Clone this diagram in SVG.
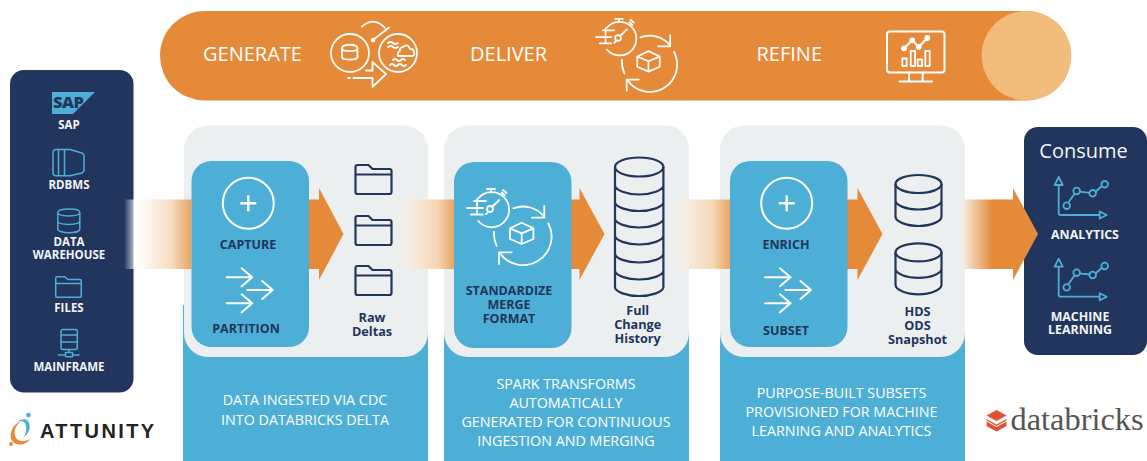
<svg xmlns="http://www.w3.org/2000/svg" width="1147" height="461" viewBox="0 0 1147 461">
<style>
text{font-family:"Open Sans","Noto Sans","Liberation Sans",sans-serif}
.n{fill:#22355d;font-weight:700;font-size:12.5px;text-anchor:middle}
.nb{fill:#22355d;font-weight:700;font-size:12.7px;text-anchor:middle}
.l{fill:#f2f4f7;font-weight:700;font-size:11.5px;text-anchor:middle}
.c{fill:#f2f4f7;font-weight:700;font-size:12.4px;text-anchor:middle}
.t{fill:#fff;font-size:20px;font-weight:400}
.b{fill:#fff;font-size:14.3px;text-anchor:middle}
.w{fill:none;stroke:#fff;stroke-width:2;stroke-linecap:round;stroke-linejoin:round}
.w2{fill:none;stroke:#fff;stroke-width:1.800;stroke-linecap:round;stroke-linejoin:round}
.nv{fill:none;stroke:#22355d;stroke-width:2.200;stroke-linejoin:round}
.bl{fill:none;stroke:#4eafd6;stroke-width:1.500;stroke-linejoin:round}
.bc{fill:none;stroke:#4eafd6;stroke-width:1.800;stroke-linejoin:round}
.g{fill:#ebeff0}
.p{fill:#4eafd6}
.o{fill:#e58a38}
</style>
<defs>
<linearGradient id="g1" gradientUnits="userSpaceOnUse" x1="124" x2="191" y1="0" y2="0"><stop offset="0" stop-color="#fff" stop-opacity="0"/><stop offset=".16" stop-color="#fff" stop-opacity=".7"/><stop offset=".3" stop-color="#fdf8f2"/><stop offset=".7" stop-color="#f6dcc2"/><stop offset="1" stop-color="#e9a561"/></linearGradient>
<linearGradient id="g2" gradientUnits="userSpaceOnUse" x1="397" x2="454" y1="0" y2="0"><stop offset="0" stop-color="#ebeff0"/><stop offset=".2" stop-color="#f6eee5"/><stop offset=".7" stop-color="#f5d8b8"/><stop offset="1" stop-color="#e9a561"/></linearGradient>
<linearGradient id="g3" gradientUnits="userSpaceOnUse" x1="673" x2="730" y1="0" y2="0"><stop offset="0" stop-color="#ebeff0"/><stop offset=".2" stop-color="#f6eee5"/><stop offset=".7" stop-color="#f5d8b8"/><stop offset="1" stop-color="#e9a561"/></linearGradient>
<linearGradient id="g4" gradientUnits="userSpaceOnUse" x1="963" x2="993" y1="0" y2="0"><stop offset="0" stop-color="#f7ecdf"/><stop offset="1" stop-color="#e58a38"/></linearGradient>
<symbol id="folder" overflow="visible" viewBox="0 0 38 31" width="38" height="31"><path d="M1 28V3q0-2 2-2h11l4 4h17q2 0 2 2v21q0 2-2 2H3q-2 0-2-2zM1 10.500H37" fill="none" stroke="currentColor" stroke-width="2.200" stroke-linejoin="round"/></symbol>
<g id="plus"><circle r="25.500" fill="none" stroke="#fff" stroke-width="2"/><path d="M-8 0H8M0-8V8" stroke="#fff" stroke-width="2.400" fill="none"/></g>
<g id="arrows" class="w"><path d="M0 0H25.500M15-9 25.500 0 15 9M20.500 12.700H46M35.500 3.700 46 12.700 35.500 21.700M0 26H25.500M15 17 25.500 26 15 35"/></g>
<g id="db" class="nv"><ellipse cx="24" cy="10.500" rx="23" ry="9"/><path d="M1 10.500V43C1 48 12 52.500 24 52.500S47 48 47 43V10.500M1 27C1 32 12 36 24 36S47 32 47 27"/></g>
<g id="chart"><path class="bc" d="M0 8V36.500Q0 38 2 38H41"/><path class="bc" d="M-4 8 0 0 4 8ZM41 34.500 48 38 41 41.500Z"/><path class="bc" d="M10 25 16 16.500M21 14.700 31 15.800M37 14.500 43 9.300"/><g class="bc"><circle cx="8" cy="28.700" r="3.300"/><circle cx="18" cy="14" r="3.300"/><circle cx="34" cy="16.300" r="3.300"/><circle cx="46" cy="7.300" r="3.300"/></g></g>
<g id="watch">
<path class="w2" d="M-12.700-10.700A17.500 17.500 0 1 1-12.700 12"/>
<path class="w2" d="M-4-20H4M0-20V-17M10.700-16.500 14-13.500M12-19 15.500-16"/>
<path class="w2" d="M-17-8H-5M-24-1H-8M-20 5.500H-8M-14-10V-3M-14 1V5"/>
<path class="w2" d="M-5 5-3 3M1-2 8.300-9"/><circle cx="-1" cy="0" r="3" class="w2"/>
<path class="w2" d="M22.300-0.700A27.500 27.500 0 0 1 53.300 7.700M53.300-3V8.700H40.700M57.300 14.300A28.500 28.500 0 0 1 9 44.300M8 55V43.300H20.700M3 22.700Q2.500 30 5.700 37"/>
<path class="w2" d="M30.700 13.700 42.400 19.300V30L30.700 35 19 30V19.300ZM19 19.300 30.700 24.300 42.400 19.300M30.700 24.300V35"/>
</g>
</defs>

<g id="banner">
<rect x="160" y="11" width="911" height="89.500" rx="44.700" class="o"/>
<circle cx="1026.500" cy="55.700" r="44.800" fill="#f2bc7d"/>
<text x="203" y="60.500" class="t">GENERATE</text>
<text x="470" y="60.500" class="t">DELIVER</text>
<text x="756.500" y="60.500" class="t">REFINE</text>
</g>
<g id="icon-generate" class="w2">
<circle cx="350" cy="53" r="19"/><circle cx="398" cy="53" r="19"/>
<path d="M362 26.500Q374 16 385 28M373 40 389 27.500"/><circle cx="373" cy="40" r="1.400" fill="#fff"/>
<path d="M366 70.500H372.500V62L386 74 372.500 87V78H353.500M348 78H350"/>
<path d="M342 48.500C342 43.500 357.500 43.500 357.500 48.500V57C357.500 60.500 342 60.500 342 57ZM342 48.500C342 52 357.500 52 357.500 48.500"/>
<path d="M388 43q3-2 5 0t5 0M388 47q3-2 5 0t5 0M390 65q2-2 4 0t4 0 4 0 4 0M393 60q2-2 4 0t4 0 4 0M398 56H412Q415 56 414 52T410 49Q408 43 403 47 399 48 400 51 397 52 398 56Z"/>
</g>
<use href="#watch" id="icon-deliver" transform="translate(619 38) scale(.96)"/>
<g id="icon-refine" class="w2">
<rect x="887" y="31.500" width="57.500" height="41" rx="3" stroke-width="2"/>
<path d="M909 72.500V81.500M922.700 72.500V81.500M899.500 81.500H932M904 48.300 912.300 40.300 918.700 47 927.300 38" stroke-width="2"/>
<g fill="#fff"><circle cx="904" cy="48.300" r="2"/><circle cx="912.300" cy="40.300" r="2"/><circle cx="918.700" cy="47" r="2"/><circle cx="927.300" cy="38" r="2"/></g>
<path d="M902.300 58.500h4.400V66h-4.400zM910.700 51h4.400V66h-4.400zM917.700 59.500h4.400V66h-4.400zM925.300 51h4.400V66h-4.400z"/>
</g>

<g id="cards">
<rect x="183" y="305" width="245" height="156" class="p"/>
<rect x="444" y="305" width="245" height="156" class="p"/>
<rect x="720" y="305" width="245" height="156" class="p"/>
<rect x="184" y="125.500" width="244" height="231.500" rx="24" class="g"/>
<rect x="444" y="125.500" width="245" height="231.500" rx="24" class="g"/>
<rect x="720" y="125.500" width="245" height="231.500" rx="24" class="g"/>
</g>

<g id="sources">
<rect x="10" y="70" width="123.500" height="322.500" rx="14" fill="#22355d"/>
<polygon points="52,92 95,92 73,114 52,114" fill="#4eafd6"/>
<text x="53" y="108" fill="#22355d" font-size="16.500" font-weight="800" style="letter-spacing:-.5px">SAP</text>
<text x="69" y="128.800" class="l">SAP</text>
<path class="bl" d="M56 149.500H70L82 153Q84 154 84 156V170Q84 172 82 173L70 175.800H56Q53 175.800 53 172.500V153Q53 149.500 56 149.500ZM58.500 149.500V175.800M64.500 149.500V175.800"/>
<text x="69" y="188.800" class="l">RDBMS</text>
<path class="bl" d="M57.800 212.500C57.800 207.800 79.800 207.800 79.800 212.500V229C79.800 234 57.800 234 57.800 229ZM57.800 212.500C57.800 217 79.800 217 79.800 212.500M57.800 221C57.800 225.500 79.800 225.500 79.800 221"/>
<text x="69" y="245.800" class="l">DATA</text>
<text x="69" y="258.800" class="l">WAREHOUSE</text>
<use href="#folder" color="#4eafd6" transform="translate(55 276) scale(.71)"/>
<text x="69" y="311.800" class="l">FILES</text>
<path class="bl" stroke-width="1.300" d="M63 329.500H75.500Q77.300 329.500 77.300 331.500V347.500Q77.300 349.500 75.500 349.500H63Q61 349.500 61 347.500V331.500Q61 329.500 63 329.500ZM61 335H77.300M61 342H77.300M69 349.500V352.500M65.500 352.500H72.500V356.800H65.500ZM58 355H65.500M72.500 355H79.500"/>
<text x="69" y="370.800" class="l">MAINFRAME</text>
</g>

<g id="connectors">
<rect x="124" y="199.500" width="67.500" height="69.500" fill="url(#g1)"/>
<path d="M309 199.500H319V188L343.500 234 319 280V269H309Z" class="o"/>
<rect x="397" y="199.500" width="57" height="69.500" fill="url(#g2)"/>
<path d="M571 199.500H579.500V188L604.500 234 579.500 280V269H571Z" class="o"/>
<rect x="673" y="199.500" width="57" height="69.500" fill="url(#g3)"/>
<path d="M847 199.500H857.500V188L882.500 234 857.500 280V269H847Z" class="o"/>
</g>

<g id="capture">
<rect x="191.500" y="161" width="117.500" height="186" rx="20" class="p"/>
<use href="#plus" x="248.300" y="203.300"/>
<text x="248" y="249.300" class="n">CAPTURE</text>
<use href="#arrows" x="226.700" y="277.300"/>
<text x="246" y="332.700" class="n">PARTITION</text>
</g>
<g id="raw-deltas">
<use href="#folder" color="#22355d" x="354.500" y="164"/>
<use href="#folder" color="#22355d" x="354.500" y="215"/>
<use href="#folder" color="#22355d" x="354.500" y="265"/>
<text x="372" y="321.800" class="nb">Raw</text>
<text x="372" y="336" class="nb">Deltas</text>
</g>
<text x="305" y="405" class="b">DATA INGESTED VIA CDC</text>
<text x="305" y="425" class="b">INTO DATABRICKS DELTA</text>

<g id="standardize">
<rect x="454" y="162" width="117.500" height="186" rx="20" class="p"/>
<use href="#watch" transform="translate(491 209)"/>
<text x="509" y="295" class="n">STANDARDIZE</text>
<text x="509" y="308.800" class="n">MERGE</text>
<text x="509" y="322.800" class="n">FORMAT</text>
</g>
<g id="full-history">
<g class="nv"><ellipse cx="639.200" cy="167" rx="24.200" ry="9.500"/>
<path d="M615 167V287C615 292 627 296 639.200 296S663.400 292 663.400 287V167M615 185.500C615 190 627 194.500 639.200 194.500S663.400 190 663.400 185.500M615 202C615 207 627 211 639.200 211S663.400 207 663.400 202M615 218.500C615 223.500 627 227.500 639.200 227.500S663.400 223.500 663.400 218.500M615 235.500C615 240.500 627 244.500 639.200 244.500S663.400 240.500 663.400 235.500M615 253.500C615 258.500 627 262.500 639.200 262.500S663.400 258.500 663.400 253.500M615 270.500C615 275.500 627 279.500 639.200 279.500S663.400 275.500 663.400 270.500"/></g>
<text x="637.700" y="315" class="nb">Full</text>
<text x="637.700" y="329.300" class="nb">Change</text>
<text x="637.700" y="343.300" class="nb">History</text>
</g>
<text x="566" y="388.500" class="b">SPARK TRANSFORMS</text>
<text x="566" y="407.500" class="b">AUTOMATICALLY</text>
<text x="566" y="426.500" class="b">GENERATED FOR CONTINUOUS</text>
<text x="566" y="445.500" class="b">INGESTION AND MERGING</text>

<g id="enrich">
<rect x="730" y="161" width="117.500" height="186" rx="20" class="p"/>
<use href="#plus" x="786.700" y="203.300"/>
<text x="786" y="249.300" class="n">ENRICH</text>
<use href="#arrows" x="765" y="277.300"/>
<text x="786" y="335" class="n">SUBSET</text>
</g>
<g id="hds">
<use href="#db" x="894.500" y="173.500"/>
<use href="#db" x="894.500" y="241.800"/>
<text x="917.500" y="315.800" class="nb">HDS</text>
<text x="917.500" y="329.800" class="nb">ODS</text>
<text x="917.500" y="344" class="nb">Snapshot</text>
</g>
<text x="841.500" y="398" class="b">PURPOSE-BUILT SUBSETS</text>
<text x="841.500" y="417" class="b">PROVISIONED FOR MACHINE</text>
<text x="841.500" y="436" class="b">LEARNING AND ANALYTICS</text>

<g id="consume">
<rect x="1024" y="127" width="123" height="228" rx="14" fill="#22355d"/>
<text x="1083.500" y="157.500" fill="#f2f4f7" text-anchor="middle" style="font-size:20px">Consume</text>
<use href="#chart" x="1058.700" y="177"/>
<text x="1085" y="238.800" class="c">ANALYTICS</text>
<use href="#chart" x="1058.700" y="258.700"/>
<text x="1080" y="321" class="c">MACHINE</text>
<text x="1080" y="334" class="c">LEARNING</text>
</g>
<path id="connector-consume" d="M963 199.500H1013V188L1038 234 1013 280V269H963Z" fill="url(#g4)"/>

<g id="attunity">
<path d="M21 421C11 425 8 437 13 442 19 447 27 444 30 439 25 442 19 442 16 438 13 432 15 426 21 421Z" class="o"/>
<path d="M17 422C24 419 27 424 26 431 25 435 24 437 22 438 29 435 32 426 28 421 26 418 20 419 17 422Z" class="p"/>
<circle cx="28.500" cy="415" r="2.300" class="p"/><circle cx="11" cy="444" r="2" class="o"/>
<text x="40" y="437.500" fill="#222" font-size="20" font-weight="700" style="letter-spacing:2.400px;font-family:'Liberation Sans',sans-serif">ATTUNITY</text>
</g>
<g id="databricks">
<path d="M996.500 410 1006.500 415.500 996.500 421 986.500 415.500Z" fill="#e0522f"/>
<path d="M986.500 419 996.500 424.500 1006.500 419V420.500L996.500 426 986.500 420.500ZM986.500 421.500 996.500 427 1006.500 421.500V426L996.500 431.500 986.500 426Z" fill="#e0522f"/>
<text x="1010.500" y="430" fill="#555" font-size="32.400" style="font-family:'Liberation Serif',serif">databricks</text>
</g>
</svg>
